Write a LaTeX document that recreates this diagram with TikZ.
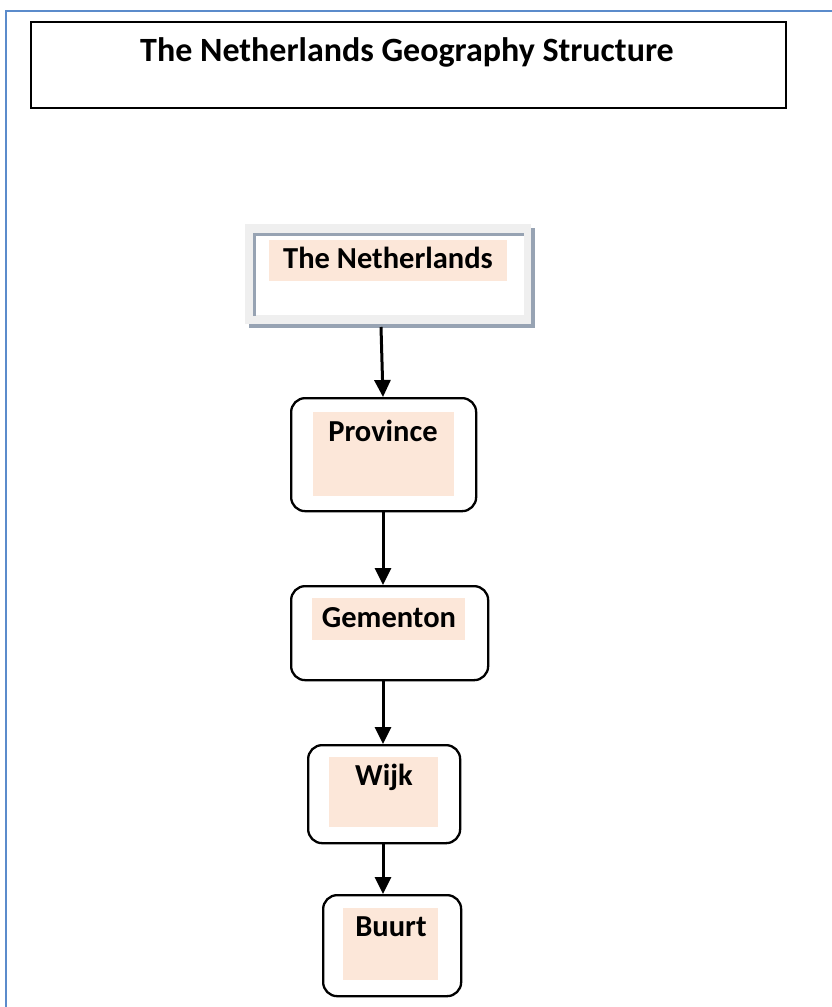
\documentclass[tikz,border=0pt]{standalone}
\usepackage{fontspec}
\setmainfont{Carlito}
\usetikzlibrary{arrows.meta}
\definecolor{peach}{HTML}{FCE7D9}
\definecolor{frameblue}{HTML}{5B8BCB}
\definecolor{shadowgrey}{HTML}{97A3B3}
\definecolor{lightgrey}{HTML}{EFEFEF}
\tikzset{
  box/.style={draw=black, line width=2.3pt, rounded corners=14pt, fill=white},
  lbl/.style={fill=peach, inner sep=0pt},
  txt/.style={font=\fontsize{30.5}{33}\selectfont\bfseries, inner sep=0pt, anchor=center},
  conn/.style={line width=3pt, -{Triangle[length=17pt,width=16pt]}},
}
\begin{document}
\begin{tikzpicture}[x=1pt,y=-1pt]
\useasboundingbox (0,0) rectangle (832,1007);
% outer frame
\draw[frameblue, line width=1.8pt] (834,11) -- (6,11) -- (6,1009);
% title box
\node[draw=black, line width=2pt, minimum width=755pt, minimum height=86pt, anchor=north west, inner sep=0pt] (title) at (30,21) {};
\node[txt, font=\fontsize{34}{36}\selectfont\bfseries] (titletext) at (407,52) {The Netherlands Geography Structure};
% The Netherlands box
\fill[shadowgrey] (249,228) rectangle (535,328);
\node[fill=lightgrey, minimum width=286pt, minimum height=100pt, anchor=north west, inner sep=0pt] (nl) at (245,224) {};
\fill[white] (253,233) rectangle (524,315);
\draw[shadowgrey, line width=3pt] (254,316) -- (254,234.5) -- (524,234.5);
\node[lbl, minimum width=238pt, minimum height=41pt, anchor=north west] (nllbl) at (269,240) {};
\node[txt] (nltext) at (388,258) {The Netherlands};
% Province
\node[box, minimum width=185pt, minimum height=113pt, anchor=north west, inner sep=0pt] (prov) at (290,397) {};
\node[lbl, minimum width=141pt, minimum height=84pt, anchor=north west] (provlbl) at (313,412) {};
\node[txt] (provtext) at (383,431) {Province};
% Gementon
\node[box, minimum width=197pt, minimum height=94pt, anchor=north west, inner sep=0pt] (gem) at (290,585) {};
\node[lbl, minimum width=153pt, minimum height=42pt, anchor=north west] (gemlbl) at (312,598) {};
\node[txt] (gemtext) at (389,618) {Gementon};
% Wijk
\node[box, minimum width=152pt, minimum height=98pt, anchor=north west, inner sep=0pt] (wijk) at (307,744) {};
\node[lbl, minimum width=109pt, minimum height=70pt, anchor=north west] (wijklbl) at (329,757) {};
\node[txt] (wijktext) at (384,777) {Wijk};
% Buurt
\node[box, minimum width=138pt, minimum height=101pt, anchor=north west, inner sep=0pt] (buurt) at (322,894) {};
\node[lbl, minimum width=95pt, minimum height=72pt, anchor=north west] (buurtlbl) at (343,908) {};
\node[txt] (buurttext) at (391,927) {Buurt};
% connectors
\coordinate (nlout) at (381,327);
\draw[conn] (nlout) -- (prov.north -| 383,0);
\draw[conn] (prov.south -| 383,0) -- (gem.north -| 383,0);
\draw[conn] (gem.south -| 383,0) -- (wijk.north -| 383,0);
\draw[conn] (wijk.south -| 383,0) -- (buurt.north -| 383,0);
\end{tikzpicture}
\end{document}
